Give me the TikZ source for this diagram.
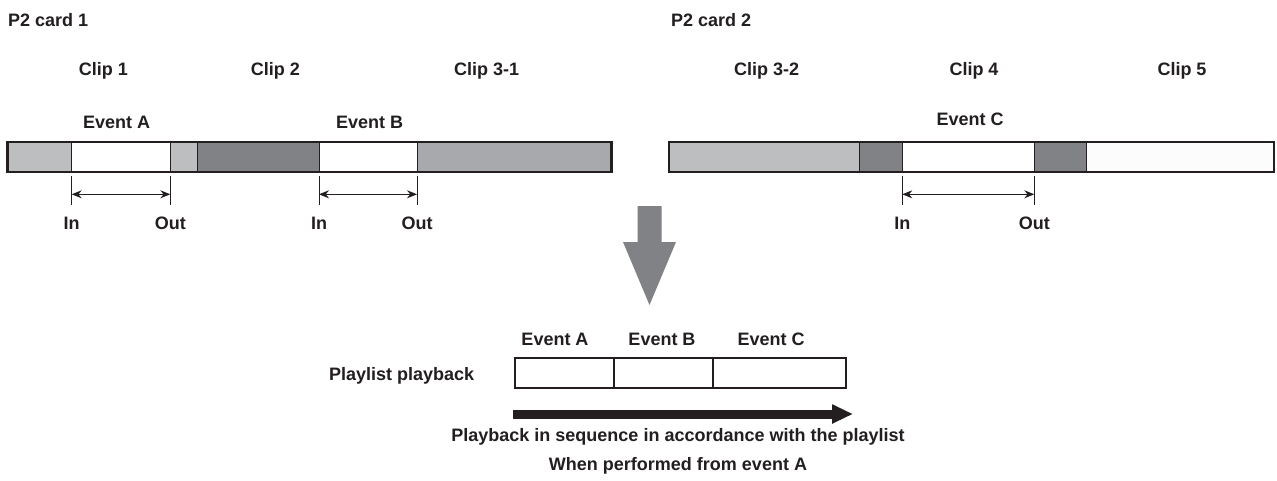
\documentclass[tikz,border=0pt]{standalone}
\usepackage{fontspec}
\setmainfont{Liberation Sans}
\usetikzlibrary{arrows.meta}
\definecolor{ink}{HTML}{231F20}
\definecolor{lightg}{HTML}{BCBEC0}
\definecolor{darkg}{HTML}{808285}
\definecolor{midg}{HTML}{A7A9AC}
\definecolor{nearw}{HTML}{FCFCFC}
\begin{document}
\begin{tikzpicture}[x=1pt,y=-1pt,
  lbl/.style={font=\fontsize{18}{21}\selectfont\bfseries, text=ink, inner sep=0pt, anchor=base},
  seg/.style={draw=ink, line width=1pt, minimum height=30pt, inner sep=0pt, outer sep=0pt, anchor=west, rectangle},
  outline/.style={draw=ink, line width=2.6pt},
  tick/.style={draw=ink, line width=1pt},
  dim/.style={draw=ink, line width=1pt, {Stealth[length=10pt,width=8pt]}-{Stealth[length=10pt,width=8pt]}},
  pbox/.style={draw=ink, line width=1.3pt, minimum height=30pt, inner sep=0pt, outer sep=0pt, anchor=west, rectangle, fill=white}
]
\useasboundingbox[fill=white] (0,0) rectangle (1277,480);

% --- titles
\node[lbl, anchor=base west] (card1) at (8,26) {P2 card 1};
\node[lbl, anchor=base west] (card2) at (671,26) {P2 card 2};

% --- clip labels
\node[lbl] (c1) at (103.3,75.3) {Clip 1};
\node[lbl] (c2) at (275.3,75.3) {Clip 2};
\node[lbl] (c31) at (486.7,75.3) {Clip 3-1};
\node[lbl] (c32) at (766.7,75.3) {Clip 3-2};
\node[lbl] (c4) at (974,75.3) {Clip 4};
\node[lbl] (c5) at (1182,75.3) {Clip 5};

% --- event labels above bars
\node[lbl] (evA) at (116.7,128.3) {Event A};
\node[lbl] (evB) at (369.7,128.3) {Event B};
\node[lbl] (evC) at (970,125) {Event C};

% --- bar 1
\node[seg, fill=lightg, minimum width=64pt] (b1) at (7.7,157) {};
\node[seg, fill=white, minimum width=98.6pt] (b2) at (b1.east) {};
\node[seg, fill=lightg, minimum width=27pt] (b3) at (b2.east) {};
\node[seg, fill=darkg, minimum width=121.7pt] (b4) at (b3.east) {};
\node[seg, fill=white, minimum width=98pt] (b5) at (b4.east) {};
\node[seg, fill=midg, minimum width=194.5pt] (b6) at (b5.east) {};
\draw[outline] (b1.north west) rectangle (b6.south east);

% --- bar 2
\node[seg, fill=lightg, minimum width=190.3pt] (d1) at (669,157) {};
\node[seg, fill=darkg, minimum width=43pt] (d2) at (d1.east) {};
\node[seg, fill=white, minimum width=132pt] (d3) at (d2.east) {};
\node[seg, fill=darkg, minimum width=52.4pt] (d4) at (d3.east) {};
\node[seg, fill=nearw, minimum width=187.3pt] (d5) at (d4.east) {};
\draw[outline] (d1.north west) rectangle (d5.south east);

% --- in/out markers
\foreach \n/\x in {ai/71.7, ao/170.3, bi/319, bo/417, ci/902.3, co/1034.3}{
  \coordinate (\n t) at (\x,176);
  \coordinate (\n b) at (\x,205);
  \coordinate (\n m) at (\x,194.3);
  \draw[tick] (\n t) -- (\n b);
}
\draw[dim] (aim) -- (aom);
\draw[dim] (bim) -- (bom);
\draw[dim] (cim) -- (com);

\node[lbl] (inA) at (71.7,229.3) {In};
\node[lbl] (outA) at (170.3,229.3) {Out};
\node[lbl] (inB) at (319,229.3) {In};
\node[lbl] (outB) at (417,229.3) {Out};
\node[lbl] (inC) at (902.3,229.3) {In};
\node[lbl] (outC) at (1034.3,229.3) {Out};

% --- big gray arrow
\fill[darkg] (637.5,206) -- (661.5,206) -- (661.5,242) -- (676,242) -- (649.5,305)
  -- (623,242) -- (637.5,242) -- cycle;

% --- playlist
\node[lbl] (pl) at (401.7,380) {Playlist playback};
\node[lbl] (pA) at (555,345) {Event A};
\node[lbl] (pB) at (662,345) {Event B};
\node[lbl] (pC) at (771,345) {Event C};
\node[pbox, minimum width=99pt] (p1) at (515,373) {};
\node[pbox, minimum width=99pt] (p2) at (p1.east) {};
\node[pbox, minimum width=133pt] (p3) at (p2.east) {};

% --- black arrow
\coordinate (s0) at (513,414);
\coordinate (s1) at (853,414);
\draw[ink, line width=9pt, -{Triangle[length=21pt,width=18pt]}] (s0) -- (s1);

\node[lbl] (t1) at (678,441.7) {Playback in sequence in accordance with the playlist};
\node[lbl] (t2) at (678,470) {When performed from event A};
\end{tikzpicture}
\end{document}
